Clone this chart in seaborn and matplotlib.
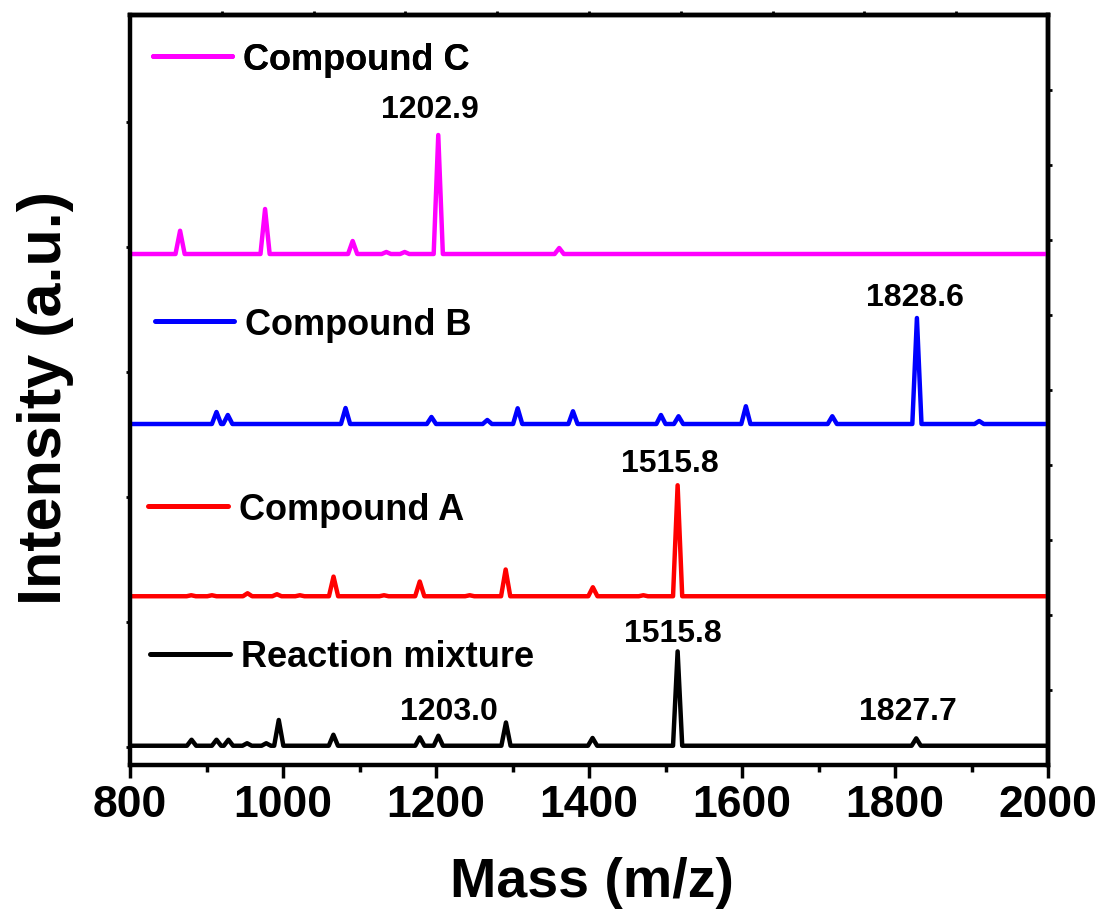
import numpy as np
import pandas as pd
import matplotlib
matplotlib.use("Agg")
import matplotlib.pyplot as plt
from matplotlib.ticker import MultipleLocator
import seaborn as sns

sns.set_theme(style="ticks")
plt.rcParams["font.family"] = ["Liberation Sans", "DejaVu Sans"]
plt.rcParams["font.weight"] = "bold"
plt.rcParams["text.color"] = "black"
plt.rcParams["axes.labelcolor"] = "black"
plt.rcParams["xtick.color"] = "black"
plt.rcParams["ytick.color"] = "black"

# ---- data (m/z of peaks, peak heights above each trace's baseline, a.u.) ----
names = ["Reaction mixture", "Compound A", "Compound B", "Compound C"]
colors = ["#000000", "#ff0000", "#0000ff", "#ff00ff"]
offsets = [10, 1206, 2584, 3944]

mix_mz = [880.4, 913.0, 928.6, 953.0, 978.0, 994.4, 1065.8, 1178.8, 1203.0, 1291.4, 1404.6, 1515.8, 1827.7]
mix_int = [48, 48, 48, 20, 20, 206, 88, 67, 80, 186, 62, 755, 59]

a_mz = [880.0, 907.0, 953.6, 992.0, 1022.0, 1066.0, 1132.0, 1178.7, 1244.0, 1291.0, 1405.0, 1471.0, 1515.8]
a_int = [8, 8, 24, 16, 8, 157, 8, 118, 8, 214, 72, 8, 888]

b_mz = [913.0, 927.8, 1081.7, 1194.0, 1267.0, 1306.7, 1379.0, 1494.0, 1517.0, 1605.0, 1718.0, 1828.6, 1910.0]
b_int = [96, 72, 128, 56, 32, 126, 102, 72, 62, 142, 62, 848, 24]

c_mz = [865.4, 976.5, 1091.0, 1135.0, 1159.0, 1202.9, 1361.0]
c_int = [186, 360, 104, 16, 16, 952, 48]

peak_labels = ["1515.8", "1203.0", "1827.7", "1515.8", "1828.6", "1202.9"]
label_pos = [(1509.8, 912), (1217, 288), (1817, 288), (1505.9, 2272), (1826.1, 3600), (1192.2, 5104)]

mz_min, mz_max = 800, 2000
half_width = 6


def trace(mz, inten, base):
    xs, ys = [mz_min], [base]
    for c, h in sorted(zip(mz, inten)):
        xs += [c - half_width, c, c + half_width]
        ys += [base, base + h, base]
    xs.append(mz_max)
    ys.append(base)
    return pd.DataFrame({"mz": xs, "intensity": ys})


fig, ax = plt.subplots(figsize=(11.04, 9.2), dpi=100)
fig.subplots_adjust(left=0.1178, right=0.9493, bottom=0.1674, top=0.9826)

series = [(mix_mz, mix_int), (a_mz, a_int), (b_mz, b_int), (c_mz, c_int)]
lines = []
for (mz, inten), base, col in zip(series, offsets, colors):
    df = trace(mz, inten, base)
    sns.lineplot(data=df, x="mz", y="intensity", sort=False, estimator=None,
                 color=col, lw=3.2, ax=ax, legend=False)
    lines.append(ax.get_lines()[-1])

# separate legend entry beside each trace
legend_anchor = [(0.022, 0.144), (0.02, 0.341), (0.027, 0.588), (0.025, 0.941)]
for line, name, anchor in zip(lines, names, legend_anchor):
    leg = ax.legend(handles=[line], labels=[name], loc="center left", bbox_to_anchor=anchor,
                    frameon=False, fontsize=26, handlelength=2.2, handletextpad=0.3,
                    borderpad=0, borderaxespad=0)
    for h in leg.legend_handles:
        h.set_linewidth(3.6)
        h.set_solid_capstyle("round")
    for t in leg.get_texts():
        t.set_color("black")
        t.set_fontweight("bold")
    ax.add_artist(leg)

for text, (x, y) in zip(peak_labels, label_pos):
    ax.text(x, y, text, ha="center", va="center", fontsize=23, fontweight="bold", color="black")

ax.set_xlim(mz_min, mz_max)
ax.set_ylim(-144, 5856)
ax.set_xticks(np.arange(800, 2001, 200))
ax.xaxis.set_minor_locator(MultipleLocator(100))
ax.set_yticks(np.arange(0, 5001, 1000))
ax.set_yticklabels([])

ax.tick_params(axis="x", which="major", length=9, width=2.5, labelsize=32, pad=5)
ax.tick_params(axis="x", which="minor", length=5, width=2.5)
ax.tick_params(axis="y", which="major", length=3, width=2)
for lab in ax.get_xticklabels():
    lab.set_fontweight("bold")

top = ax.secondary_xaxis("top")
top.set_xticks(np.arange(920, 2000, 120))
top.tick_params(length=3, width=2, labeltop=False)
right = ax.secondary_yaxis("right")
right.set_yticks(np.arange(5256, -144, -600))
right.tick_params(length=3, width=2, labelright=False)

for sp in list(ax.spines.values()) + [top.spines["top"], right.spines["right"]]:
    sp.set_linewidth(3.2)
    sp.set_color("black")

ax.set_xlabel("Mass (m/z)", fontsize=40, fontweight="bold", va="center")
ax.set_ylabel("Intensity (a.u.)", fontsize=44, fontweight="bold", va="center")
ax.xaxis.set_label_coords(0.503, -0.156)
ax.yaxis.set_label_coords(-0.0926, 0.49)

fig.savefig("out.png", dpi=100, facecolor="white")
